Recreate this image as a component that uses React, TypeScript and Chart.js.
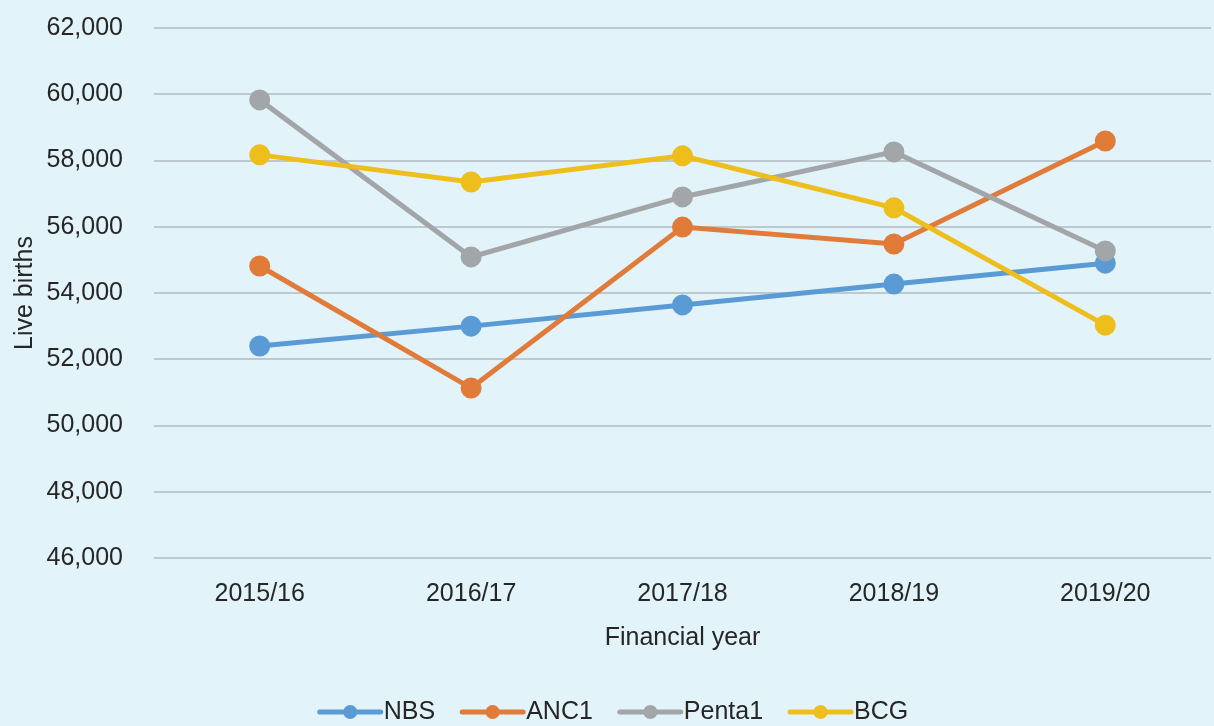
import React, { useEffect, useRef } from "react";
import { Chart, registerables } from "chart.js";

Chart.register(...registerables);

const categories = ["2015/16", "2016/17", "2017/18", "2018/19", "2019/20"];
const nbs = [52400, 53000, 53640, 54270, 54900];
const anc1 = [54815, 51130, 55990, 55480, 58590];
const penta1 = [59830, 55090, 56900, 58260, 55270];
const bcg = [58170, 57350, 58140, 56570, 53030];
const seriesNames = ["NBS", "ANC1", "Penta1", "BCG"];
const seriesColors = ["#5B9BD5", "#E07B39", "#A2A6A9", "#EDBE1C"];
const yMin = 46000;
const yMax = 62000;
const yStep = 2000;

const FONT = "Arial, 'Liberation Sans', sans-serif";
const TEXT = "#262626";

const legendPlugin = {
  id: "lineLegend",
  afterDraw(chart: any) {
    const ctx = chart.ctx;
    const items = chart.data.datasets.map((d: any) => ({ label: d.label, color: d.borderColor }));
    ctx.save();
    ctx.font = `25px ${FONT}`;
    const lineW = 65;
    const textGap = 1;
    const itemGap = 25;
    const widths = items.map((it: any) => lineW + textGap + ctx.measureText(it.label).width);
    const total = widths.reduce((a: number, b: number) => a + b, 0) + itemGap * (items.length - 1);
    let x = chart.width / 2 - total / 2 + 1;
    const y = 712;
    items.forEach((it: any, i: number) => {
      ctx.strokeStyle = it.color;
      ctx.lineWidth = 5;
      ctx.lineCap = "round";
      ctx.beginPath();
      ctx.moveTo(x + 2, y);
      ctx.lineTo(x + lineW - 2, y);
      ctx.stroke();
      ctx.fillStyle = it.color;
      ctx.beginPath();
      ctx.arc(x + lineW / 2, y, 7, 0, Math.PI * 2);
      ctx.fill();
      ctx.fillStyle = TEXT;
      ctx.textBaseline = "middle";
      ctx.textAlign = "left";
      ctx.fillText(it.label, x + lineW + textGap, y);
      x += widths[i] + itemGap;
    });
    ctx.restore();
  },
};

export default function App() {
  const ref = useRef<HTMLCanvasElement | null>(null);
  useEffect(() => {
    if (!ref.current) return;
    const values = [nbs, anc1, penta1, bcg];
    const chart = new Chart(ref.current, {
      type: "line",
      data: {
        labels: categories,
        datasets: values.map((v, i) => ({
          label: seriesNames[i],
          data: v,
          borderColor: seriesColors[i],
          backgroundColor: seriesColors[i],
          pointBackgroundColor: seriesColors[i],
          pointBorderColor: seriesColors[i],
          borderWidth: 5,
          pointRadius: 8,
          pointHoverRadius: 8,
          tension: 0,
          order: 4 - i,
        })),
      },
      options: {
        animation: false,
        responsive: false,
        devicePixelRatio: 1,
        layout: { padding: { top: 28, bottom: 68, left: 0, right: 0 } },
        plugins: {
          legend: { display: false },
          tooltip: { enabled: false },
        },
        scales: {
          x: {
            offset: true,
            grid: { display: false, drawTicks: false },
            border: { display: false },
            ticks: { color: TEXT, font: { family: FONT, size: 25 }, padding: 21 },
            title: {
              display: true,
              text: "Financial year",
              color: TEXT,
              font: { family: FONT, size: 25 },
              padding: { top: 0, bottom: 5 },
            },
            afterFit: (s: any) => {
              s.height = 100;
            },
          },
          y: {
            min: yMin,
            max: yMax,
            grid: { color: "#BDC9CF", lineWidth: 2, drawTicks: false },
            border: { display: false },
            ticks: {
              stepSize: yStep,
              color: TEXT,
              font: { family: FONT, size: 25 },
              padding: 31,
              callback: (v: any) => Number(v).toLocaleString("en-US"),
            },
            title: {
              display: true,
              text: "Live births",
              color: TEXT,
              font: { family: FONT, size: 25 },
              padding: { top: 10, bottom: 0 },
            },
            afterFit: (s: any) => {
              s.width = 154;
              s.paddingTop = 0;
              s.paddingBottom = 0;
            },
          },
        },
      },
      plugins: [legendPlugin],
    });
    return () => chart.destroy();
  }, []);
  return (
    <div
      style={{
        position: "fixed",
        left: 0,
        top: 0,
        width: 1224,
        height: 726,
        background: "#E3F3FA",
      }}
    >
      <canvas ref={ref} width={1224} height={726} style={{ display: "block" }} />
    </div>
  );
}
